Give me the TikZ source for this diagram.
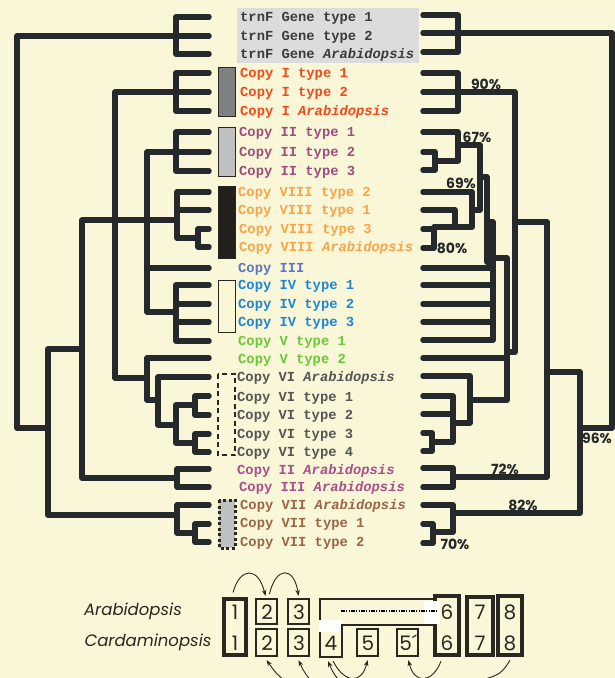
\documentclass[tikz,border=0pt]{standalone}
\usepackage{fontspec}
\usetikzlibrary{arrows.meta,calc}
\newfontfamily\lmono{Liberation Mono}
\newfontfamily\geo{Poppins}
\definecolor{bgc}{HTML}{FAF6D8}
\definecolor{treec}{HTML}{25292B}
\definecolor{boxc}{HTML}{2A2620}
\definecolor{ctrnF}{HTML}{3B3B3B}
\definecolor{cI}{HTML}{F04A1A}
\definecolor{cII}{HTML}{9E4D7E}
\definecolor{cVIII}{HTML}{F8A448}
\definecolor{cIII}{HTML}{5B74C4}
\definecolor{cIV}{HTML}{1F86D6}
\definecolor{cV}{HTML}{6CC83A}
\definecolor{cVI}{HTML}{555555}
\definecolor{cIIA}{HTML}{A8508A}
\definecolor{cVII}{HTML}{9A6548}
\definecolor{graybox}{HTML}{DCDCDC}
\definecolor{barI}{HTML}{808080}
\definecolor{barII}{HTML}{C0C0C0}
\definecolor{barVIII}{HTML}{231F1A}
\begin{document}
\begin{tikzpicture}[x=1pt,y=-1pt,
  tree/.style={line width=5.5pt,line cap=round,line join=round,draw=treec},
  leaf/.style={anchor=base west,inner sep=0pt,font=\lmono\bfseries\fontsize{13.8}{14}\selectfont},
  pct/.style={inner sep=0pt,text=treec,font=\geo\bfseries\fontsize{14}{14}\selectfont},
  bar/.style={draw=boxc,line width=1pt},
  gbox/.style={draw=boxc,rectangle,inner sep=0pt,line width=2.2pt},
  dig/.style={inner sep=0pt,text=boxc,font=\geo\fontsize{20}{20}\selectfont},
  spec/.style={inner sep=0pt,text=boxc,font=\geo\itshape\fontsize{16.5}{17}\selectfont},
  arr/.style={draw=boxc,line width=0.9pt,-{Stealth[length=6pt,width=4.5pt]}},
  arc/.style={draw=boxc,line width=0.9pt}]
\useasboundingbox (0,0) rectangle (615,678);
\fill[bgc] (0,0) rectangle (615,678);
\clip (0,0) rectangle (615,678);

% gray background of trnF labels and side bars
\fill[graybox] (237,8) rectangle (419,63);
\draw[bar,fill=barI] (218,67) rectangle (235,116);
\draw[bar,fill=barII] (218,127) rectangle (235,176);
\draw[bar,fill=barVIII] (218,186) rectangle (235,258);
\draw[bar] (218,280) rectangle (235,332);
\draw[draw=boxc,line width=2.6pt,dash pattern=on 5pt off 3.5pt] (218,374) rectangle (235,455);
\draw[draw=boxc,fill=barII,line width=3pt,dash pattern=on 3pt off 2.5pt] (219,500) rectangle (235,548);

% ---------------- left tree
\draw[tree] (209,17) -| (176,54) -- (209,54);
\draw[tree] (176,36) -- (209,36);
\draw[tree] (48,428) -- (17,428) |- (176,36);
\draw[tree] (177,515) -| (48,349) -- (82,349);
\draw[tree] (177,478) -| (82,220) -- (177,220);
\draw[tree] (209,73) -| (176,111) -- (209,111);
\draw[tree] (176,92) -- (209,92);
\draw[tree] (147,378) -- (115,378) |- (176,92);
\draw[tree] (209,132) -| (176,171) -- (209,171);
\draw[tree] (176,152) -- (209,152);
\draw[tree] (176,312) -| (147,152) -- (176,152);
\draw[tree] (147,268) -- (209,268);
\draw[tree] (209,285) -| (176,341) -- (209,341);
\draw[tree] (176,304) -- (209,304);
\draw[tree] (176,322) -- (209,322);
\draw[tree] (209,192) -| (177,238) -- (198,238);
\draw[tree] (177,210) -- (209,210);
\draw[tree] (209,229) -| (198,247) -- (209,247);
\draw[tree] (209,358) -| (147,400) -- (158,400);
\draw[tree] (209,377) -| (158,425) -- (176,425);
\draw[tree] (209,396) -| (195,415) -- (209,415);
\draw[tree] (209,434) -| (195,452) -- (209,452);
\draw[tree] (195,405) -| (176,443) -- (195,443);
\draw[tree] (209,469) -| (177,487) -- (209,487);
\draw[tree] (209,505) -| (177,533) -- (195,533);
\draw[tree] (209,524) -| (195,542) -- (209,542);

% ---------------- right tree
\draw[tree] (423,15) -| (458,52) -- (423,52);
\draw[tree] (423,33) -- (458,33) -| (612,428) -- (580,428);
\draw[tree] (423,73) -| (458,111) -- (423,111);
\draw[tree] (423,92) -| (515,352) -- (507,352);
\draw[tree] (515,222) -| (547,477) -- (453,477);
\draw[tree] (547,372) -| (580,513) -- (453,513);
\draw[tree] (423,132) -| (458,161) -- (435,161);
\draw[tree] (423,152) -| (435,170) -- (423,170);
\draw[tree] (458,145) -| (480,210) -- (472,210);
\draw[tree] (423,192) -| (472,227) -- (434,227);
\draw[tree] (455,227) |- (423,210);
\draw[tree] (423,229) -| (434,248) -- (423,248);
\draw[tree] (480,177) -| (487,262) -- (493,262);
\draw[tree] (487,222) -| (493,340) -- (423,340);
\draw[tree] (423,268) -- (493,268);
\draw[tree] (423,285) -- (493,285);
\draw[tree] (423,304) -- (493,304);
\draw[tree] (423,322) -- (493,322);
\draw[tree] (493,258) -| (507,400) -- (470,400);
\draw[tree] (423,358) -- (507,358);
\draw[tree] (423,376) -| (470,423) -- (453,423);
\draw[tree] (423,396) -| (453,442) -- (432,442);
\draw[tree] (423,414) -- (453,414);
\draw[tree] (423,433) -| (432,451) -- (423,451);
\draw[tree] (423,468) -| (453,487) -- (423,487);
\draw[tree] (423,505) -| (453,532) -- (433,532);
\draw[tree] (423,524) -| (433,543) -- (423,543);

% percentages
\node[pct] (p90) at (486,84) {90\%};
\node[pct] (p67) at (477,137) {67\%};
\node[pct] (p69) at (461,183) {69\%};
\node[pct] (p80) at (452,248) {80\%};
\node[pct] (p72) at (505,469) {72\%};
\node[pct] (p82) at (523,505) {82\%};
\node[pct] (p70) at (455,544) {70\%};
\node[pct] (p96) at (597,438) {96\%};

% ---------------- leaf labels
\node[leaf,text=ctrnF] (t1) at (240,21) {trnF Gene type 1};
\node[leaf,text=ctrnF] (t2) at (240,40) {trnF Gene type 2};
\node[leaf,text=ctrnF] (t3) at (240,58) {trnF Gene \textit{Arabidopsis}};
\node[leaf,text=cI] (t4) at (240,77) {Copy I type 1};
\node[leaf,text=cI] (t5) at (240,96) {Copy I type 2};
\node[leaf,text=cI] (t6) at (240,115) {Copy I \textit{Arabidopsis}};
\node[leaf,text=cII] (t7) at (239,136) {Copy II type 1};
\node[leaf,text=cII] (t8) at (239,156) {Copy II type 2};
\node[leaf,text=cII] (t9) at (239,175) {Copy II type 3};
\node[leaf,text=cVIII] (t10) at (238,196) {Copy VIII type 2};
\node[leaf,text=cVIII] (t11) at (238,214) {Copy VIII type 1};
\node[leaf,text=cVIII] (t12) at (239,233) {Copy VIII type 3};
\node[leaf,text=cVIII] (t13) at (239,251) {Copy VIII \textit{Arabidopsis}};
\node[leaf,text=cIII] (t14) at (238,272) {Copy III};
\node[leaf,text=cIV] (t15) at (238,289) {Copy IV type 1};
\node[leaf,text=cIV] (t16) at (238,308) {Copy IV type 2};
\node[leaf,text=cIV] (t17) at (238,326) {Copy IV type 3};
\node[leaf,text=cV] (t18) at (238,345) {Copy V type 1};
\node[leaf,text=cV] (t19) at (238,363) {Copy V type 2};
\node[leaf,text=cVI] (t20) at (237,381) {Copy VI \textit{Arabidopsis}};
\node[leaf,text=cVI] (t21) at (237,401) {Copy VI type 1};
\node[leaf,text=cVI] (t22) at (237,419) {Copy VI type 2};
\node[leaf,text=cVI] (t23) at (237,438) {Copy VI type 3};
\node[leaf,text=cVI] (t24) at (237,456) {Copy VI type 4};
\node[leaf,text=cIIA] (t25) at (237,474) {Copy II \textit{Arabidopsis}};
\node[leaf,text=cIIA] (t26) at (239,491) {Copy III \textit{Arabidopsis}};
\node[leaf,text=cVII] (t27) at (240,509) {Copy VII \textit{Arabidopsis}};
\node[leaf,text=cVII] (t28) at (240,527) {Copy VII type 1};
\node[leaf,text=cVII] (t29) at (240,546) {Copy VII type 2};

% ---------------- gene order diagram
\node[spec] (sA) at (133,611) {Arabidopsis};
\node[spec] (sC) at (148,642) {Cardaminopsis};

\node[gbox,line width=4pt,minimum width=22pt,minimum height=56pt] (b1) at (235,626.5) {};
\node[gbox,minimum width=21pt,minimum height=25pt] (b2t) at (266.5,611.5) {};
\node[gbox,minimum width=21pt,minimum height=27pt] (b2b) at (266.5,642.5) {};
\node[gbox,minimum width=21pt,minimum height=25pt] (b3t) at (298.5,611.5) {};
\node[gbox,minimum width=21pt,minimum height=27pt] (b3b) at (298.5,642.5) {};
\node[gbox,minimum width=22pt,minimum height=32pt] (b4) at (331,641) {};
\node[gbox,minimum width=21pt,minimum height=27pt] (b5) at (367.5,642.5) {};
\node[gbox,minimum width=21pt,minimum height=27pt] (b5p) at (407.5,642.5) {};
\node[gbox,line width=4.5pt,minimum width=24pt,minimum height=59pt] (b6) at (447,625.5) {};
\node[gbox,line width=3.5pt,minimum width=26pt,minimum height=58pt] (b7) at (480,626) {};
\node[gbox,line width=4.5pt,minimum width=24pt,minimum height=59pt] (b8) at (510,625.5) {};
\draw[draw=boxc,line width=2.2pt] (436,599) -- (320,599) -- (320,657);
\draw[draw=boxc,line width=2.2pt] (342,625) -- (436,625);
\fill[white] (424,601) rectangle (440,624);
\fill[white] (318.5,620) rectangle (340.5,632);
\draw[draw=black,line width=1.6pt,dash pattern=on 4pt off 1.2pt on 1.2pt off 1.2pt on 1.2pt off 1.2pt] (341,611) -- (438,611);

\node[dig] (d1a) at (235,612) {1};
\node[dig] (d1b) at (235,643) {1};
\node[dig] (d2a) at (267,612) {2};
\node[dig] (d2b) at (267,643) {2};
\node[dig] (d3a) at (299,612) {3};
\node[dig] (d3b) at (299,643) {3};
\node[dig] (d4) at (331,643) {4};
\node[dig] (d5) at (368,643) {5};
\node[dig] (d5p) at (408,643) {5´};
\node[dig] (d6a) at (447,612) {6};
\node[dig] (d6b) at (447,643) {6};
\node[dig] (d7a) at (480,612) {7};
\node[dig] (d7b) at (480,643) {7};
\node[dig] (d8a) at (510,612) {8};
\node[dig] (d8b) at (510,643) {8};

% arrows
\draw[arr] ($(b1.north)+(-2,-4)$) .. controls (240,567) and (258,566) .. ($(b2t.north)+(-1,-2)$);
\draw[arr] ($(b2t.north)+(3,-4)$) .. controls (276,566) and (294,566) .. ($(b3t.north)+(0,-2)$);
\coordinate (f2) at (296,688);
\coordinate (f3) at (318,688);
\coordinate (f4) at (347,688);
\coordinate (f8) at (455,686);
\draw[arr] (f2) .. controls (278,676) .. ($(b2b.south)+(0,3)$);
\draw[arr] (f3) .. controls (305,674) .. ($(b3b.south)+(0,3)$);
\draw[arr] (f4) .. controls (334,675) .. ($(b4.south)+(-3,3)$);
\draw[arr] ($(b4.south)+(2,3)$) .. controls (345,684) and (362,684) .. ($(b5.south)+(0,3)$);
\draw[arr] ($(b6.south)+(-6,4)$) .. controls (432,684) and (414,684) .. ($(b5p.south)+(1,3)$);
\draw[arc] ($(b8.south)+(0,3)$) .. controls (500,676) .. (f8);
\end{tikzpicture}
\end{document}
